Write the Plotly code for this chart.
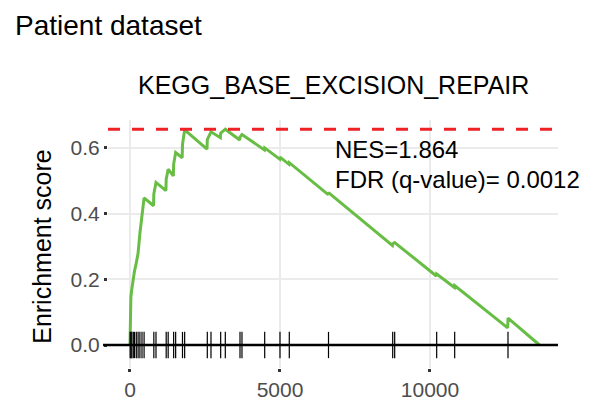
import plotly.graph_objects as go

# ---- data ----
es_x = [0, 5, 30, 60, 110, 150, 210, 270, 330, 400, 470,
        785, 795, 867, 1197, 1207, 1273, 1445, 1455, 1522,
        1740, 1750, 1822, 2567, 2577, 2700, 3013, 3023, 3177,
        3657, 3667, 3733, 4480, 4490, 4990, 5000, 5300, 5310,
        6607, 6617, 8747, 8757, 8823, 10213, 10223, 10813, 10823,
        12590, 12600, 13650]
es_y = [0.0, 0.086, 0.147, 0.17, 0.21, 0.225, 0.25, 0.28, 0.34, 0.40, 0.448,
        0.424, 0.46, 0.495, 0.47, 0.505, 0.535, 0.515, 0.55, 0.586,
        0.57, 0.61, 0.655, 0.596, 0.625, 0.649, 0.631, 0.645, 0.657,
        0.624, 0.633, 0.641, 0.594, 0.600, 0.566, 0.572, 0.550, 0.555,
        0.458, 0.464, 0.303, 0.308, 0.312, 0.210, 0.216, 0.175, 0.181,
        0.052, 0.082, 0.0]
hits = [5, 30, 60, 110, 150, 210, 270, 330, 400, 470,
        795, 867, 1207, 1273, 1455, 1522, 1750, 1822, 2577, 2700,
        3023, 3177, 3667, 3733, 4490, 5000, 5310, 6617, 8757, 8823,
        10223, 10823, 12600]
x_ticks = [0, 5000, 10000]
x_tick_text = ["0", "5000", "10000"]
y_ticks = [0.0, 0.2, 0.4, 0.6]
y_tick_text = ["0.0", "0.2", "0.4", "0.6"]
hit_half_height = 0.04
nes_text = "NES=1.864"
fdr_text = "FDR (q-value)= 0.0012"
pathway = "KEGG_BASE_EXCISION_REPAIR"
dataset = "Patient dataset"

FONT = "Liberation Sans, Arial, sans-serif"

hx, hy = [], []
for h in hits:
    hx += [h, h, None]
    hy += [-hit_half_height, hit_half_height, None]

fig = go.Figure()
fig.add_trace(go.Scatter(x=es_x, y=es_y, mode="lines",
                         line=dict(color="#68bd45", width=3),
                         hoverinfo="skip", showlegend=False))
fig.add_trace(go.Scatter(x=hx, y=hy, mode="lines",
                         line=dict(color="black", width=1.2),
                         hoverinfo="skip", showlegend=False))

max_es = max(es_y)
fig.add_shape(type="line", xref="paper", x0=-0.011, x1=1.0, yref="y", y0=0, y1=0,
              line=dict(color="black", width=2.5), layer="above")
fig.add_shape(type="line", xref="paper", x0=0, x1=1.0, yref="y", y0=max_es, y1=max_es,
              line=dict(color="#ee2226", width=3, dash="12px,12px"), layer="above")

fig.add_annotation(text=dataset, xref="paper", yref="paper", x=-0.211, y=1.381,
                   xanchor="left", yanchor="middle", showarrow=False,
                   font=dict(family=FONT, size=28, color="black"))
fig.add_annotation(text=pathway, xref="paper", yref="paper", x=0.5, y=1.141,
                   xanchor="center", yanchor="middle", showarrow=False,
                   font=dict(family=FONT, size=25, color="black"))
fig.add_annotation(text=nes_text, xref="x", yref="y", x=6757, y=0.594,
                   xanchor="left", yanchor="middle", showarrow=False,
                   font=dict(family=FONT, size=24, color="black"))
fig.add_annotation(text=fdr_text, xref="x", yref="y", x=6757, y=0.505,
                   xanchor="left", yanchor="middle", showarrow=False,
                   font=dict(family=FONT, size=24, color="black"))
fig.add_annotation(text="Enrichment score", xref="paper", yref="paper", x=-0.146, y=0.49,
                   xanchor="center", yanchor="middle", showarrow=False, textangle=-90,
                   font=dict(family=FONT, size=25, color="black"))

# page body adds an 8px offset; shrink figure so plot area lands where the reference has it
fig.update_layout(
    width=592, height=395,
    margin=dict(l=100, r=42, t=112, b=35),
    paper_bgcolor="white", plot_bgcolor="white",
    showlegend=False,
    font=dict(family=FONT),
)
fig.update_xaxes(range=[-733, 14267], tickvals=x_ticks, ticktext=x_tick_text,
                 showgrid=True, gridcolor="#ebebeb", gridwidth=1.5,
                 zeroline=False, showline=False, automargin=False,
                 ticks="outside", ticklen=3, tickwidth=2.5, tickcolor="#333333",
                 tickfont=dict(family=FONT, size=21, color="#4d4d4d"))
fig.update_yaxes(range=[-0.07, 0.685], tickvals=y_ticks, ticktext=y_tick_text,
                 showgrid=True, gridcolor="#ebebeb", gridwidth=1.5,
                 zeroline=False, showline=False, automargin=False,
                 ticks="outside", ticklen=3, tickwidth=2.5, tickcolor="#333333",
                 tickfont=dict(family=FONT, size=21, color="#4d4d4d"))

fig.write_html("out.html")
